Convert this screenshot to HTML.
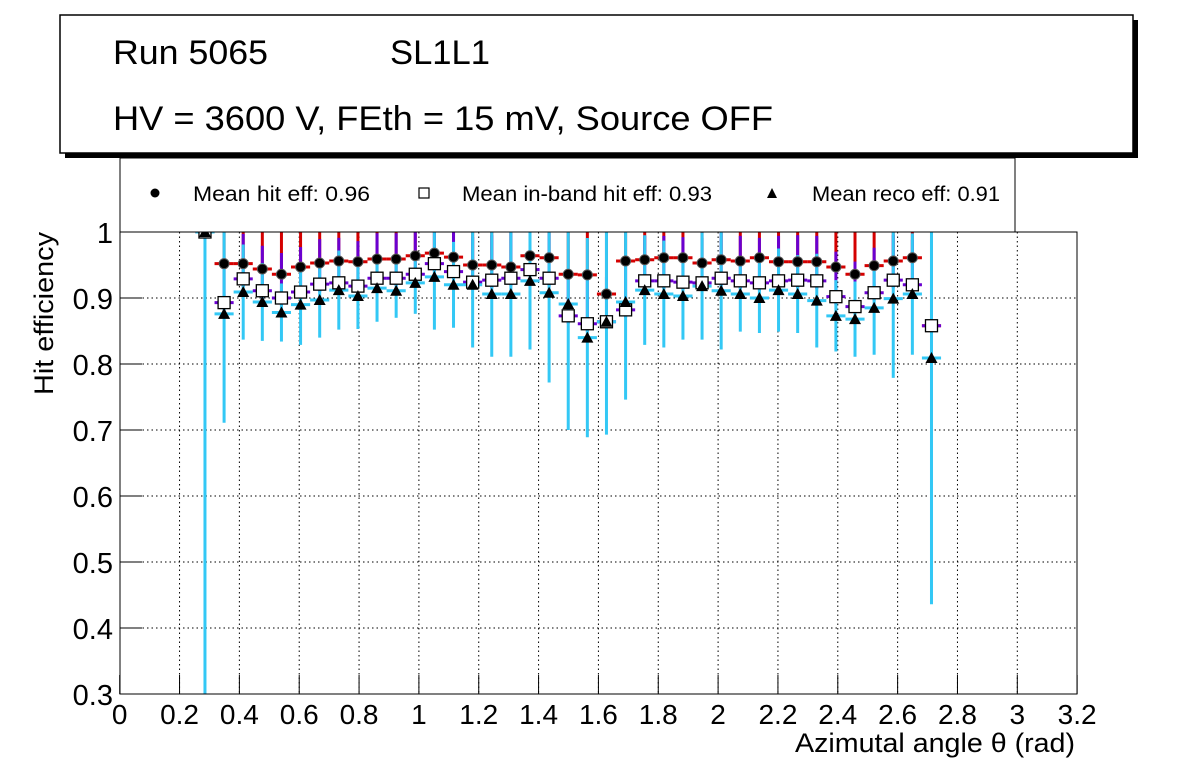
<!DOCTYPE html>
<html><head><meta charset="utf-8"><style>
body{margin:0;background:#fff;}
svg text{font-family:"Liberation Sans",Arial,sans-serif;fill:#000;}
</style></head><body>
<svg id="c" width="1196" height="772" xmlns="http://www.w3.org/2000/svg">
<defs><clipPath id="pc"><rect x="120" y="232" width="957" height="462"/></clipPath></defs>
<rect x="0" y="0" width="1196" height="772" fill="#fff"/>
<g>
<rect x="65" y="20" width="1073" height="138" fill="#000"/>
<rect x="60" y="15" width="1073" height="138" fill="#fff" stroke="#000" stroke-width="1.5"/>
<text x="113" y="64" font-size="34" textLength="155" lengthAdjust="spacingAndGlyphs">Run 5065</text>
<text x="390" y="64" font-size="34" textLength="100" lengthAdjust="spacingAndGlyphs">SL1L1</text>
<text x="113" y="130" font-size="34" textLength="660" lengthAdjust="spacingAndGlyphs">HV = 3600 V, FEth = 15 mV, Source OFF</text>
</g>
<g>
<rect x="120" y="158" width="895" height="74" fill="#fff" stroke="#000" stroke-width="1"/>
<circle cx="155" cy="193" r="4.5" fill="#000"/>
<text x="193" y="201" font-size="21" textLength="177" lengthAdjust="spacingAndGlyphs">Mean hit  eff: 0.96</text>
<rect x="419" y="188" width="10" height="10" fill="#fff" stroke="#000" stroke-width="1.2"/>
<text x="462" y="201" font-size="21" textLength="250" lengthAdjust="spacingAndGlyphs">Mean in-band hit eff: 0.93</text>
<path d="M772,188 L777,198 L767,198Z" fill="#000"/>
<text x="812" y="201" font-size="21" textLength="188" lengthAdjust="spacingAndGlyphs">Mean reco eff: 0.91</text>
</g>
<g id="grid"></g>
<g id="marks" clip-path="url(#pc)"></g>
<rect x="120" y="232" width="957" height="462" fill="none" stroke="#000" stroke-width="1"/>
<g id="axes"></g>
<text x="1075" y="752" font-size="27" textLength="280" lengthAdjust="spacingAndGlyphs" text-anchor="end">Azimutal angle θ (rad)</text>
<text transform="translate(53,395) rotate(-90)" font-size="27" textLength="163" lengthAdjust="spacingAndGlyphs">Hit efficiency</text>
</svg>
<script>
const xTicks=[0,0.2,0.4,0.6,0.8,1,1.2,1.4,1.6,1.8,2,2.2,2.4,2.6,2.8,3,3.2];
const xTickLabels=["0","0.2","0.4","0.6","0.8","1","1.2","1.4","1.6","1.8","2","2.2","2.4","2.6","2.8","3","3.2"];
const yTicks=[0.3,0.4,0.5,0.6,0.7,0.8,0.9,1];
const yTickLabels=["0.3","0.4","0.5","0.6","0.7","0.8","0.9","1"];
const binStart=0.285;
const binWidth=0.0639;
const hitEff=[1.000,.952,.952,.944,.936,.947,.953,.956,.955,.959,.959,.964,.968,.962,.950,.950,.947,.964,.961,.936,.935,.906,.956,.958,.961,.961,.953,.958,.956,.961,.955,.955,.955,.947,.936,.949,.956,.961,.858];
const inbandEff=[1.0,.893,.929,.911,.900,.909,.921,.923,.918,.930,.930,.936,.952,.940,.924,.927,.930,.943,.930,.873,.861,.864,.882,.926,.926,.924,.923,.930,.926,.923,.926,.927,.926,.902,.887,.908,.927,.920,.858];
const recoEff=[1.0,.876,.909,.894,.878,.890,.897,.912,.903,.915,.911,.923,.932,.920,.920,.906,.906,.926,.908,.891,.840,.864,.894,.912,.906,.903,.918,.911,.906,.900,.912,.906,.896,.873,.868,.885,.899,.906,.809];
const recoLow=[.300,.711,.837,.835,.834,.829,.840,.852,.853,.864,.870,.876,.852,.855,.825,.811,.811,.822,.772,.700,.689,.693,.746,.829,.825,.837,.837,.822,.849,.847,.849,.847,.825,.819,.811,.814,.779,.814,.436];

const X=v=>119.7+v*299.2;
const Y=v=>694-(v-0.3)*(462/0.7);
const NS="http://www.w3.org/2000/svg";
function mk(p,tag,a){const e=document.createElementNS(NS,tag);for(const k in a)e.setAttribute(k,a[k]);p.appendChild(e);return e;}
const grid=document.getElementById('grid'),axes=document.getElementById('axes'),marks=document.getElementById('marks');
xTicks.forEach((t,i)=>{
  const x=X(t);
  if(i>0&&i<xTicks.length-1){const g=mk(grid,'line',{x1:x,x2:x,y1:232,y2:694,stroke:'#000','stroke-dasharray':'1.5,3','stroke-width':1});
  
  }
  const tk=mk(axes,'line',{x1:x,x2:x,y1:694,y2:675,stroke:'#000'});
  
  
  const lb=mk(axes,'text',{x:x,y:724,'font-size':28,'text-anchor':'middle'});lb.textContent=xTickLabels[i];
  
  
});
yTicks.forEach((t,i)=>{
  const y=Y(t);
  if(i>0&&i<yTicks.length-1){const g=mk(grid,'line',{x1:120,x2:1077,y1:y,y2:y,stroke:'#000','stroke-dasharray':'1.5,3','stroke-width':1});
  
  }
  const tk=mk(axes,'line',{x1:120,x2:142,y1:y,y2:y,stroke:'#000'});
  
  
  const lb=mk(axes,'text',{x:113,y:y+11,'font-size':29,'text-anchor':'end'});lb.textContent=yTickLabels[i];
  
  
});
const hw=binWidth/2;
hitEff.forEach((h,i)=>{
  const c=binStart+i*binWidth,x=X(c),x0=X(c-hw),x1=X(c+hw);
  const e1=mk(marks,'line',{x1:x,x2:x,y1:232,y2:Y(h),stroke:'#d40000','stroke-width':3});
  
  
  const e2=mk(marks,'line',{x1:x,x2:x,y1:Y(inbandEff[i])-45,y2:Y(inbandEff[i])+8,stroke:'#6a00d0','stroke-width':3});
  
  
  const ry=Y(recoEff[i]),rl=Y(recoLow[i]);
  const e3=mk(marks,'line',{x1:x,x2:x,y1:ry-(rl-ry),y2:rl,stroke:'#33c8f5','stroke-width':3});
  
  
  const h1=mk(marks,'line',{x1:x0,x2:x1,y1:Y(h),y2:Y(h),stroke:'#d40000','stroke-width':3});
  
  
  const h2=mk(marks,'line',{x1:x0,x2:x1,y1:Y(inbandEff[i]),y2:Y(inbandEff[i]),stroke:'#6a00d0','stroke-width':3});
  
  
  const h3=mk(marks,'line',{x1:x0,x2:x1,y1:ry,y2:ry,stroke:'#33c8f5','stroke-width':3});
  
  
});
hitEff.forEach((h,i)=>{
  const x=X(binStart+i*binWidth);
  const p=mk(marks,'circle',{cx:x,cy:Y(h),r:5,fill:'#000',stroke:'#555','stroke-width':1});
  
  
  const yi=Y(inbandEff[i]);
  const s=mk(marks,'rect',{x:x-6,y:yi-6,width:12,height:12,fill:'#fff',stroke:'#000','stroke-width':1.3});
  
  
  const yr=Y(recoEff[i]);
  const t=mk(marks,'path',{d:`M${x},${yr-6} L${x+6},${yr+5} L${x-6},${yr+5}Z`,fill:'#000'});
  
  
});
</script>
</body></html>
